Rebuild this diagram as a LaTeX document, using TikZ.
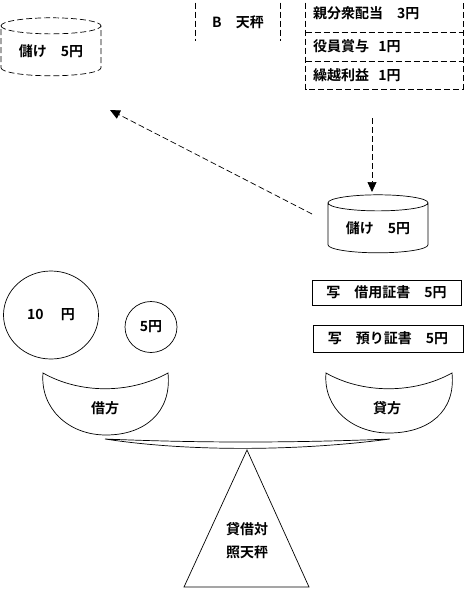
\documentclass[tikz,border=0pt]{standalone}
\usepackage{fontspec}
\newfontfamily\jp{Noto Sans CJK JP}[BoldFont={Noto Sans CJK JP Bold}]
\usetikzlibrary{arrows.meta,positioning,shapes.geometric}

\begin{document}
\begin{tikzpicture}[x=1pt,y=-1pt,>={Triangle[length=10pt,width=9pt]},line width=0.7pt,
    font=\jp\bfseries\fontsize{14}{16}\selectfont,
    dsh/.style={dash pattern=on 6pt off 3pt},
    pot/.style={cylinder,shape border rotate=90,draw,aspect=0.25,minimum width=100pt,minimum height=58pt,inner sep=0pt},
    row/.style={minimum width=157pt,text width=143pt,inner sep=7pt,align=left},
    slip/.style={draw,minimum height=26pt,inner sep=3pt},
    coin/.style={draw,ellipse,inner sep=0pt},
    flow/.style={->,dsh}]
    \clip (0,0) rectangle (465,592);
    % top
    \node[pot,dsh] (profitA) at (51,51) {儲け\quad 5円};
    \node[minimum width=84pt,minimum height=38pt] (scaleB) at (238,22) {B\quad 天秤};
    \draw[dsh] (scaleB.north west) -- (scaleB.south west);
    \draw[dsh] (scaleB.north east) -- (scaleB.south east);
    \node[row,minimum height=38pt] (divi) at (384.5,13) {親分衆配当\quad 3円};
    \node[row,minimum height=28pt,below=0pt of divi] (bonus) {役員賞与\ \ 1円};
    \node[row,minimum height=26pt,below=0pt of bonus] (rest) {繰越利益\ \ 1円};
    \draw[dsh] (divi.north west) rectangle (rest.south east);
    \draw[dsh] (bonus.north west) -- (bonus.north east);
    \draw[dsh] (rest.north west) -- (rest.north east);
    \node[pot] (profitB) at (378,228) {儲け\quad 5円};
    \coordinate (dropTop) at (372,118);
    \coordinate (dropEnd) at (372,192);
    \coordinate (backTop) at (110,110);
    \coordinate (backEnd) at (312,214);
    \draw[flow] (dropTop) -- (dropEnd);
    \draw[flow] (backEnd) -- (backTop);
    % coins and slips
    \node[coin,minimum width=95pt,minimum height=88pt] (ten) at (51,315) {10\quad\ 円};
    \node[coin,minimum width=52pt,minimum height=51pt] (five) at (151,327) {5円};
    \node[slip,minimum width=149pt,minimum height=25pt] (loan) at (386.5,292.5) {写\quad 借用証書\quad 5円};
    \node[slip,minimum width=150pt,minimum height=27pt] (depo) at (388,338.5) {写\quad 預り証書\quad 5円};
    % balance
    \draw (43,373) .. controls (80,394) and (130,394) .. (168,373)
        .. controls (172,412) and (145,435) .. (106,435)
        .. controls (68,435) and (40,408) .. cycle;
    \draw (326,373) .. controls (363,394) and (414,394) .. (452,373)
        .. controls (456,412) and (428,433) .. (389,433)
        .. controls (352,433) and (323,408) .. cycle;
    \node (debit) at (105,408) {借方};
    \node (credit) at (387,408) {貸方};
    \draw (105,439) .. controls (200,443) and (290,443) .. (390,439)
        .. controls (300,451) and (190,452) .. cycle;
    \draw (247,450) -- (309,587) -- (184,587) -- cycle;
    \node[align=center,font=\jp\bfseries\fontsize{14}{23}\selectfont] (bsheet) at (247,541) {貸借対\\照天秤};
\end{tikzpicture}
\end{document}
